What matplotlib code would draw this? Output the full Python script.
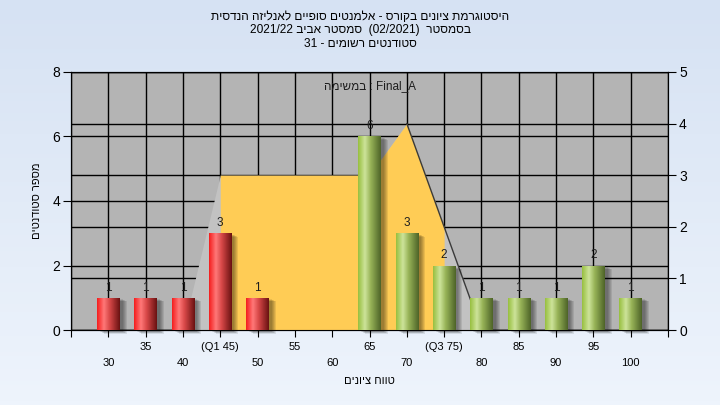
import numpy as np
import matplotlib
matplotlib.use("Agg")
import matplotlib.pyplot as plt
import matplotlib.transforms as mtransforms
from matplotlib.colors import LinearSegmentedColormap

plt.rcParams['font.family'] = ['Liberation Sans', 'DejaVu Sans']

# data
scores = [30, 35, 40, 45, 50, 55, 60, 65, 70, 75, 80, 85, 90, 95, 100]
score_labels = ['30', '35', '40', '(Q1 45)', '50', '55', '60', '65', '70',
                '(Q3 75)', '80', '85', '90', '95', '100']
counts = [1, 1, 1, 3, 1, 0, 0, 6, 3, 2, 1, 1, 1, 2, 1]
pass_mark = 55

# distribution area on the right axis
area_scores = [40, 45, 50, 55, 60, 65, 70, 75, 80]
area_vals = [0, 3, 3, 3, 3, 3, 4, 2, 0]
q1, q3 = 45, 75

# texts (Hebrew written in visual order, since matplotlib has no bidi)
def heb(s):
    return s[::-1]

title1 = heb("היסטוגרמת ציונים בקורס - אלמנטים סופיים לאנליזה הנדסית")
title2 = "2021/22 " + heb("סמסטר אביב") + "  (02/2021)  " + heb("בסמסטר")
title3 = "31 - " + heb("סטודנטים רשומים")
task_txt = heb("במשימה") + " : Final_A"
xlab = heb("טווח ציונים")
ylab = heb("מספר סטודנטים")

fig = plt.figure(figsize=(7.2, 4.05), dpi=100)

# light blue gradient background
bg = fig.add_axes([0, 0, 1, 1], zorder=-10)
bg_cmap = LinearSegmentedColormap.from_list("bg", ["#eef4fc", "#d6e2f3"])
bg.imshow(np.linspace(0, 1, 100).reshape(-1, 1)[::-1], cmap=bg_cmap, aspect='auto',
          extent=(0, 1, 0, 1))
bg.axis('off')

pos = [71 / 720, 1 - 330 / 405, (668 - 71) / 720, (330 - 72) / 405]
ax = fig.add_axes(pos, zorder=1)
ax.set_facecolor('#b4b4b4')
ax2 = ax.twinx()
ax2.set_zorder(2)
ax2.patch.set_visible(False)
ax3 = fig.add_axes(pos, sharex=ax, sharey=ax, zorder=3)
ax3.patch.set_visible(False)
ax3.axis('off')

# grids (both scales), under the area
ax.grid(True, color='black', lw=1)
ax.set_axisbelow(True)
ax2.grid(True, axis='y', color='black', lw=1)
ax2.set_axisbelow(True)

# area
ax2.fill_between(area_scores, area_vals, color='#c2c2c2', lw=0)
ax2.fill_between(area_scores, area_vals, where=[q1 <= s <= q3 for s in area_scores],
                 color='#ffcc55', lw=0)
ax2.plot(area_scores[6:], area_vals[6:], color='#3a3a3a', lw=1)

# cylinder bars
red_cmap = LinearSegmentedColormap.from_list(
    "red", [(0, "#f41e1e"), (0.3, "#ff7878"), (0.55, "#d84848"), (1, "#6a1212")])
green_cmap = LinearSegmentedColormap.from_list(
    "green", [(0, "#98c040"), (0.3, "#cde39a"), (0.55, "#98b458"), (1, "#4e6428")])
grad = np.linspace(0, 1, 64).reshape(1, -1)
bw = 3.0

for s, c in zip(scores, counts):
    if c == 0:
        continue
    cmap = red_cmap if s < pass_mark else green_cmap
    for dx in [3, 4, 5, 6, 7]:
        off = mtransforms.offset_copy(ax3.transData, fig=fig, x=dx, y=-dx * 0.5,
                                      units='dots')
        ax3.bar(s, c, width=bw, color='black', alpha=0.09, lw=0,
                transform=off, zorder=2, clip_on=False)
    bar = ax3.bar(s, c, width=bw, color='none', lw=0, zorder=4)[0]
    im = ax3.imshow(grad, cmap=cmap, aspect='auto',
                    extent=(s - bw / 2, s + bw / 2, 0, c), zorder=3)
    im.set_clip_path(bar)
    ax3.annotate(str(c), (s, c), xytext=(0, 3), textcoords='offset points',
                 ha='center', va='bottom', fontsize=8.5, color='#1e1e1e')

# axes
ax.set_xlim(25, 105)
ax.set_ylim(0, 8)
ax2.set_ylim(0, 5)
ax.set_aspect('auto')
ax3.set_aspect('auto')

ticks = list(range(25, 106, 5))
labels = [''] + [('\n' + l if i % 2 == 0 else l) for i, l in enumerate(score_labels)] + ['']
ax.set_xticks(ticks, labels)
ax.tick_params(axis='x', length=5, pad=3.5, labelsize=8)
for t in ax.get_xticklabels():
    t.set_linespacing(1.75)
ax.set_yticks([0, 2, 4, 6, 8])
ax.tick_params(axis='y', length=6, labelsize=10, pad=2)
ax2.set_yticks([0, 1, 2, 3, 4, 5])
ax2.tick_params(axis='y', length=6, labelsize=10, pad=2)
for a in (ax, ax2):
    for sp in a.spines.values():
        sp.set_color('black')

ax.set_xlabel(xlab, fontsize=8, labelpad=6)
ax.set_ylabel(ylab, fontsize=8, labelpad=7)

ax3.text(0.5, 0.946, task_txt, transform=ax.transAxes, ha='center', va='center',
         fontsize=8.5, color='#1e1e1e')

fig.text(0.5, 1 - 17 / 405, title1, ha='center', va='center', fontsize=8.6)
fig.text(0.5, 1 - 30.5 / 405, title2, ha='center', va='center', fontsize=8.6)
fig.text(0.5, 1 - 44 / 405, title3, ha='center', va='center', fontsize=8.6)

fig.savefig("out.png", dpi=100)
